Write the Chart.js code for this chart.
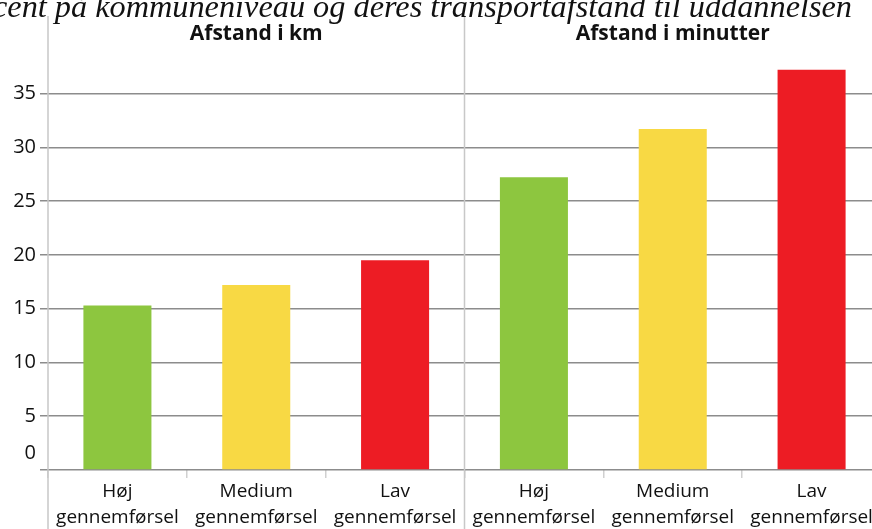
<!DOCTYPE html>
<html>
<head>
<meta charset="utf-8">
<script src="https://cdn.jsdelivr.net/npm/chart.js@4"></script>
<style>
  html, body { margin: 0; padding: 0; background: #fff; overflow: hidden; }
  #wrap { position: relative; width: 872px; height: 529px; overflow: hidden; }
  #title { position: absolute; right: 20px; top: -10px; white-space: nowrap;
           font: italic 32.3px/32px "Liberation Serif", serif; color: #111; }
  #box { position: absolute; left: 0; top: 0; width: 885px; height: 529px; }
</style>
</head>
<body>
<div id="wrap">
  <div id="box"><canvas id="myChart"></canvas></div>
  <div id="title">gennemførselsprocent på kommuneniveau og deres transportafstand til uddannelsen</div>
</div>
<script>
// data
const groups = ['Afstand i km', 'Afstand i minutter'];
const labels = [
  ['Høj', 'gennemførsel'], ['Medium', 'gennemførsel'], ['Lav', 'gennemførsel'],
  ['Høj', 'gennemførsel'], ['Medium', 'gennemførsel'], ['Lav', 'gennemførsel']
];
const values = [15.3, 17.2, 19.5, 27.2, 31.7, 37.2];
const colors = ['#8dc63f', '#f8d944', '#ed1c24', '#8dc63f', '#f8d944', '#ed1c24'];

const fontSans = '"Open Sans", "Liberation Sans", sans-serif';

// header text, separator lines and the raised 0 label
const extras = {
  id: 'extras',
  afterDraw(chart) {
    let ctx = chart.ctx;
    let x = chart.scales.x;
    let y = chart.scales.y;
    let area = chart.chartArea;
    let h = chart.height;
    let mid = (x.getPixelForValue(2) + x.getPixelForValue(3)) / 2;

    ctx.save();
    ctx.strokeStyle = '#c8c8c8';
    ctx.lineWidth = 1.5;
    ctx.beginPath();
    ctx.moveTo(area.left, area.top);
    ctx.lineTo(area.left, h);
    ctx.moveTo(mid, area.top);
    ctx.lineTo(mid, h);
    ctx.stroke();

    ctx.fillStyle = '#111';
    ctx.font = 'bold 21px ' + fontSans;
    ctx.textAlign = 'center';
    ctx.textBaseline = 'middle';
    ctx.fillText(groups[0], (x.getPixelForValue(0) + x.getPixelForValue(2)) / 2, 34);
    ctx.fillText(groups[1], (x.getPixelForValue(3) + x.getPixelForValue(5)) / 2, 34);

    ctx.font = '20px ' + fontSans;
    ctx.textAlign = 'right';
    ctx.fillText('0', area.left - 12, y.getPixelForValue(0) - 17);
    ctx.restore();
  }
};

function createChart() {
  let ctx = document.getElementById('myChart').getContext('2d');
  return new Chart(ctx, {
    type: 'bar',
    data: {
      labels: labels,
      datasets: [{
        data: values,
        backgroundColor: colors,
        borderWidth: 0,
        categoryPercentage: 0.49,
        barPercentage: 1
      }]
    },
    options: {
      responsive: true,
      maintainAspectRatio: false,
      animation: false,
      layout: { padding: { top: 15, right: 4 } },
      plugins: { legend: { display: false }, tooltip: { enabled: false } },
      scales: {
        x: {
          afterFit: s => { s.height = 59; },
          border: { display: false },
          grid: { drawOnChartArea: false, tickLength: 8, color: '#d0d0d0', lineWidth: 1.5 },
          ticks: { color: '#111', font: { family: fontSans, size: 19, lineHeight: 1.38 }, padding: 0, maxRotation: 0, autoSkip: false }
        },
        y: {
          min: 0,
          max: 42.2,
          afterFit: s => { s.width = 48; },
          afterBuildTicks: s => { s.ticks = s.ticks.filter(t => t.value <= 35); },
          border: { display: false },
          grid: { color: '#8c8c8c', lineWidth: 1.5, tickLength: 8 },
          ticks: {
            stepSize: 5,
            padding: 4,
            color: '#111',
            font: { family: fontSans, size: 20 },
            callback: v => (v === 0 ? '' : v)
          }
        }
      }
    },
    plugins: [extras]
  });
}

createChart();
</script>
</body>
</html>
